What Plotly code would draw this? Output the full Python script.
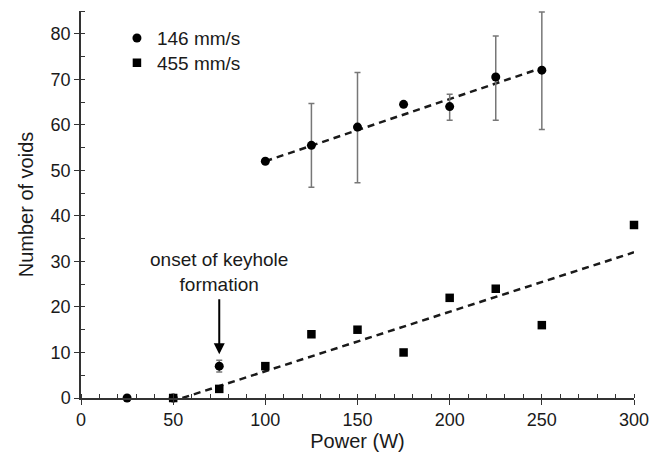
import plotly.graph_objects as go

# 146 mm/s (circles)
power_146 = [25, 50, 75, 100, 125, 150, 175, 200, 225, 250]
voids_146 = [0, 0, 7, 52, 55.5, 59.5, 64.5, 64, 70.5, 72]
err_plus_146 = [0, 0, 1.3, 0, 9.2, 12, 0, 2.7, 9, 12.8]
err_minus_146 = [0, 0, 1.3, 0, 9.2, 12.2, 0, 3.0, 9.5, 13]

# 455 mm/s (squares)
power_455 = [50, 75, 100, 125, 150, 175, 200, 225, 250, 300]
voids_455 = [0, 2, 7, 14, 15, 10, 22, 24, 16, 38]

# trend lines (end points)
fit_146_x = [100, 250]
fit_146_y = [52, 72.5]
fit_455_x = [55, 300]
fit_455_y = [0, 32]

x_ticks = [0, 50, 100, 150, 200, 250, 300]
y_ticks = [0, 10, 20, 30, 40, 50, 60, 70, 80]

FONT = "Liberation Sans, Arial, sans-serif"
AX = "#333333"

fig = go.Figure()

fig.add_trace(go.Scatter(
    x=fit_146_x, y=fit_146_y, mode="lines", showlegend=False,
    line=dict(color="#1a1a1a", width=2.5, dash="7px,5px"), hoverinfo="skip"))
fig.add_trace(go.Scatter(
    x=fit_455_x, y=fit_455_y, mode="lines", showlegend=False,
    line=dict(color="#1a1a1a", width=2.5, dash="7px,5px"), hoverinfo="skip"))

fig.add_trace(go.Scatter(
    x=power_146, y=voids_146, mode="markers", name="146 mm/s", legend="legend",
    marker=dict(symbol="circle", size=9, color="black"),
    error_y=dict(type="data", symmetric=False, array=err_plus_146,
                 arrayminus=err_minus_146, color="#777777", thickness=1.5, width=3),
    cliponaxis=False))
fig.add_trace(go.Scatter(
    x=power_455, y=voids_455, mode="markers", name="455 mm/s", legend="legend2",
    marker=dict(symbol="square", size=8.5, color="black"),
    cliponaxis=False))

# arrow and annotation
fig.add_annotation(x=75, y=9.6, ax=75, ay=22, xref="x", yref="y", axref="x", ayref="y",
                   text="", showarrow=True, arrowhead=2, arrowsize=1.1, arrowwidth=2,
                   arrowcolor="black")
fig.add_annotation(x=75, y=27.6, xref="x", yref="y", text="onset of keyhole<br>formation",
                   showarrow=False, font=dict(family=FONT, size=19, color="#1a1a1a"))

legend_style = dict(xanchor="left", yanchor="top",
                    font=dict(family=FONT, size=19, color="#1a1a1a"),
                    bgcolor="rgba(0,0,0,0)", itemwidth=30)

# the page body has an 8px margin, so the figure is 8px smaller and margins shifted
fig.update_layout(
    width=653, height=444,
    margin=dict(l=73, r=27, t=3, b=54, pad=0),
    paper_bgcolor="white", plot_bgcolor="white",
    font=dict(family=FONT, size=18, color="#1a1a1a"),
    showlegend=True,
    legend=dict(x=0.065, y=0.979, **legend_style),
    legend2=dict(x=0.065, y=0.915, **legend_style),
    xaxis=dict(range=[0, 300], tickmode="array", tickvals=x_ticks,
               ticktext=[str(v) for v in x_ticks], automargin=False,
               showgrid=False, zeroline=False, showline=True, linecolor=AX, linewidth=1.5,
               ticks="outside", ticklen=5, tickwidth=1.3, tickcolor=AX,
               minor=dict(ticks="inside", dtick=10, ticklen=4, tickwidth=1, tickcolor=AX),
               title=dict(text="Power (W)", font=dict(size=20), standoff=5),
               tickfont=dict(size=18)),
    yaxis=dict(range=[0, 85], tickmode="array", tickvals=y_ticks,
               ticktext=[str(v) for v in y_ticks], automargin=False,
               showgrid=False, zeroline=False, showline=True, linecolor=AX, linewidth=1.5,
               ticks="outside", ticklen=5, tickwidth=1.3, tickcolor=AX,
               minor=dict(ticks="inside", dtick=5, ticklen=4, tickwidth=1, tickcolor=AX),
               title=dict(text="Number of voids", font=dict(size=20), standoff=12),
               tickfont=dict(size=18)),
    xaxis2=dict(overlaying="x", matches="x", anchor="y", side="bottom", range=[0, 300],
                tickmode="array", tickvals=x_ticks, ticks="inside", ticklen=5, tickwidth=1.3,
                tickcolor=AX, showticklabels=False, showline=False, showgrid=False,
                zeroline=False, automargin=False),
    yaxis2=dict(overlaying="y", matches="y", anchor="x", side="left", range=[0, 85],
                tickmode="array", tickvals=y_ticks, ticks="inside", ticklen=5, tickwidth=1.3,
                tickcolor=AX, showticklabels=False, showline=False, showgrid=False,
                zeroline=False, automargin=False),
)

fig.write_html("out.html")
